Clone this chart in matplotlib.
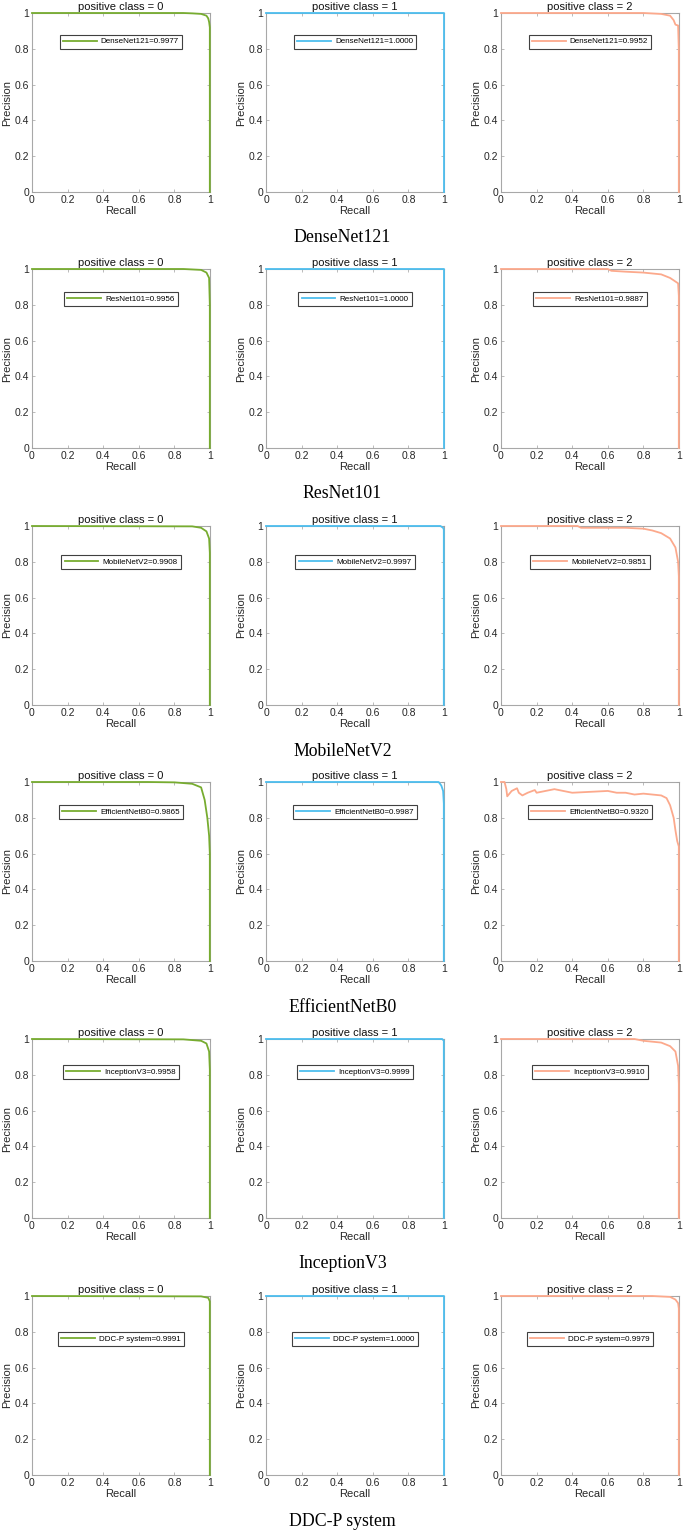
import matplotlib
matplotlib.use('Agg')
import matplotlib.pyplot as plt

plt.rcParams['font.family'] = ['Liberation Sans', 'DejaVu Sans']

# model names shown under each row
models = ["DenseNet121", "ResNet101", "MobileNetV2", "EfficientNetB0", "InceptionV3", "DDC-P system"]
classes = [0, 1, 2]

# average precision values from the legends, [model][class]
ap = [
    [0.9977, 1.0000, 0.9952],
    [0.9956, 1.0000, 0.9887],
    [0.9908, 0.9997, 0.9851],
    [0.9865, 0.9987, 0.9320],
    [0.9958, 0.9999, 0.9910],
    [0.9991, 1.0000, 0.9979],
]

# precision-recall curves: (recall list, precision list)
dense_c0 = ([0, 0.85, 0.9, 0.95, 0.98, 0.99, 0.995, 0.999, 0.999],
            [1, 1, 0.998, 0.995, 0.985, 0.97, 0.95, 0.92, 0])
dense_c1 = ([0, 0.999, 0.999], [1, 1, 0])
dense_c2 = ([0, 0.8, 0.9, 0.95, 0.97, 0.98, 0.995, 0.999, 0.999],
            [1, 1, 0.995, 0.985, 0.96, 0.935, 0.93, 0.79, 0])

res_c0 = ([0, 0.85, 0.95, 0.98, 0.995, 0.999, 0.999],
          [1, 1, 0.995, 0.98, 0.95, 0.8, 0])
res_c1 = ([0, 0.999, 0.999], [1, 1, 0])
res_c2 = ([0, 0.6, 0.62, 0.7, 0.8, 0.9, 0.95, 0.98, 0.995, 0.999, 0.999],
          [1, 1, 0.99, 0.985, 0.98, 0.97, 0.95, 0.93, 0.92, 0.85, 0])

mob_c0 = ([0, 0.9, 0.95, 0.98, 0.995, 0.999, 0.999],
          [1, 0.998, 0.99, 0.97, 0.93, 0.85, 0])
mob_c1 = ([0, 0.98, 0.995, 0.999, 0.999], [1, 1, 0.99, 0.98, 0])
mob_c2 = ([0, 0.43, 0.45, 0.7, 0.8, 0.85, 0.9, 0.95, 0.98, 0.995, 0.999, 0.999],
          [1, 1, 0.99, 0.99, 0.985, 0.975, 0.96, 0.93, 0.88, 0.8, 0.72, 0])

eff_c0 = ([0, 0.65, 0.8, 0.9, 0.95, 0.97, 0.985, 0.995, 0.999, 0.999],
          [1, 1, 0.998, 0.99, 0.97, 0.9, 0.8, 0.7, 0.6, 0])
eff_c1 = ([0, 0.97, 0.985, 0.995, 0.999, 0.999], [1, 1, 0.98, 0.95, 0.88, 0])
eff_c2 = ([0, 0.02, 0.03, 0.035, 0.06, 0.09, 0.1, 0.12, 0.15, 0.19, 0.2, 0.25, 0.3,
           0.35, 0.4, 0.5, 0.6, 0.65, 0.7, 0.75, 0.8, 0.85, 0.9, 0.93, 0.95, 0.97,
           0.98, 0.99, 0.999, 0.999],
          [1, 1, 0.96, 0.92, 0.95, 0.965, 0.94, 0.925, 0.94, 0.955, 0.94, 0.95, 0.96,
           0.95, 0.94, 0.945, 0.95, 0.94, 0.94, 0.93, 0.935, 0.93, 0.925, 0.91, 0.87,
           0.8, 0.73, 0.67, 0.64, 0])

inc_c0 = ([0, 0.85, 0.95, 0.98, 0.995, 0.999, 0.999],
          [1, 0.998, 0.99, 0.975, 0.93, 0.83, 0])
inc_c1 = ([0, 0.99, 0.999, 0.999], [1, 1, 0.99, 0])
inc_c2 = ([0, 0.75, 0.8, 0.9, 0.95, 0.98, 0.995, 0.999, 0.999],
          [1, 1, 0.99, 0.98, 0.96, 0.93, 0.85, 0.75, 0])

ddc_c0 = ([0, 0.95, 0.99, 0.999, 0.999], [1, 0.998, 0.99, 0.97, 0])
ddc_c1 = ([0, 0.999, 0.999], [1, 1, 0])
ddc_c2 = ([0, 0.85, 0.95, 0.98, 0.995, 0.999, 0.999],
          [1, 1, 0.995, 0.98, 0.96, 0.93, 0])

curves = [
    [dense_c0, dense_c1, dense_c2],
    [res_c0, res_c1, res_c2],
    [mob_c0, mob_c1, mob_c2],
    [eff_c0, eff_c1, eff_c2],
    [inc_c0, inc_c1, inc_c2],
    [ddc_c0, ddc_c1, ddc_c2],
]

colors = ['#77AC30', '#4DBEEE', '#FCA98C']
ticks = [0, 0.2, 0.4, 0.6, 0.8, 1]
tick_labels = ['0', '0.2', '0.4', '0.6', '0.8', '1']


def main():
    W, H = 685, 1531
    fig = plt.figure(figsize=(W / 100, H / 100), dpi=100)

    # layout in pixels
    col_left = [32, 266, 501]
    row_top = [13, 269, 526, 782, 1039, 1296]
    aw, ah = 178, 179
    legend_y = [0.84, 0.83, 0.80, 0.83, 0.815, 0.76]

    for r, name in enumerate(models):
        for c, cls in enumerate(classes):
            x0 = col_left[c] / W
            y0 = (H - row_top[r] - ah) / H
            ax = fig.add_axes([x0, y0, aw / W, ah / H])
            rec, prec = curves[r][c]
            ax.plot(rec, prec, color=colors[c], lw=1.3, clip_on=False, zorder=5,
                    label=f"{name}={ap[r][c]:.4f}")
            ax.set_xlim(0, 1)
            ax.set_ylim(0, 1)
            ax.set_xticks(ticks)
            ax.set_xticklabels(tick_labels)
            ax.set_yticks(ticks)
            ax.set_yticklabels(tick_labels)
            ax.tick_params(direction='in', length=2, width=0.5, top=True, right=True,
                           labelsize=7.5, colors='#A0A0A0', labelcolor='#262626', pad=2)
            for sp in ax.spines.values():
                sp.set_color('#A8A8A8')
                sp.set_linewidth(0.8)
                sp.set_zorder(1)
            ax.set_title(f"positive class = {cls}", fontsize=8, pad=2, color='#111111')
            ax.set_xlabel("Recall", fontsize=8, labelpad=1, color='#262626')
            ax.set_ylabel("Precision", fontsize=8, labelpad=2, color='#262626')
            leg = ax.legend(loc='center', bbox_to_anchor=(0.5, legend_y[r]),
                            fontsize=5.8, handlelength=4.2, fancybox=False,
                            framealpha=1, borderpad=0.4, handletextpad=0.5)
            leg.get_frame().set_edgecolor('#404040')
            leg.get_frame().set_linewidth(0.8)
            leg.set_zorder(6)

        # caption under each row
        cy = (H - (row_top[r] + ah + 46)) / H
        fig.text(0.5, cy, name, ha='center', va='center', fontsize=12.8,
                 family='Liberation Serif')

    plt.savefig("out.png", dpi=100)


if __name__ == "__main__":
    main()
